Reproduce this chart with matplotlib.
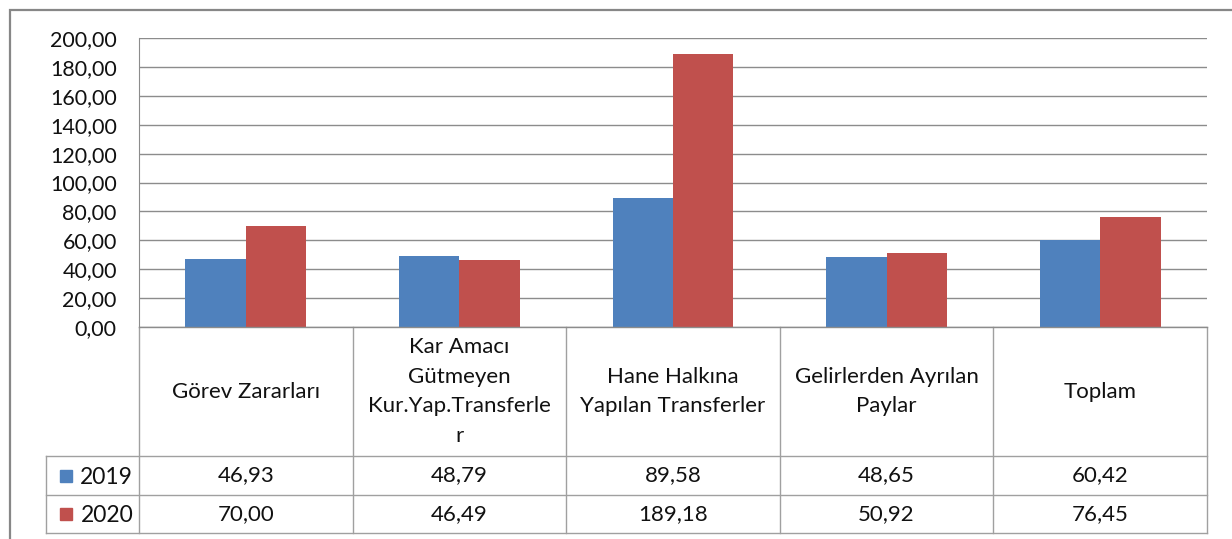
import matplotlib.pyplot as plt
from matplotlib.patches import Rectangle
from matplotlib.transforms import blended_transform_factory

plt.rcParams['font.family'] = ['Lato', 'DejaVu Sans']

categories = ['Görev Zararları', 'Kar Amacı\nGütmeyen\nKur.Yap.Transferle\nr',
              'Hane Halkına\nYapılan Transferler', 'Gelirlerden Ayrılan\nPaylar', 'Toplam']
years = ['2019', '2020']
v2019 = [46.93, 48.79, 89.58, 48.65, 60.42]
v2020 = [70.00, 46.49, 189.18, 50.92, 76.45]
colors = ['#4F81BD', '#C0504D']

W, H = 1232, 539
fig = plt.figure(figsize=(W / 100, H / 100), dpi=100)
fig.patch.set_facecolor('white')

# outer chart frame (cropped at right and bottom)
fig.add_artist(Rectangle((10 / W, -0.1), 1.2, 1 - 10 / H + 0.1, transform=fig.transFigure,
                         fill=False, edgecolor='#878787', linewidth=1.6))

x0, x1, y0, y1 = 139, 1207, 38, 327
ax = fig.add_axes([x0 / W, 1 - y1 / H, (x1 - x0) / W, (y1 - y0) / H])

bw = 0.283
xs = range(len(categories))
ax.bar([i - bw / 2 for i in xs], v2019, bw, color=colors[0], zorder=3)
ax.bar([i + bw / 2 for i in xs], v2020, bw, color=colors[1], zorder=3)

ax.set_xlim(-0.5, len(categories) - 0.5)
ax.set_ylim(0, 200)
ax.set_yticks(range(0, 201, 20))
ax.set_yticklabels(['%d,00' % t for t in range(0, 201, 20)], fontsize=15.5, color='#111111')
ax.tick_params(axis='y', length=0, pad=16)
ax.set_xticks([])
ax.grid(axis='y', color='#8c8c8c', linewidth=1.0, zorder=0)
for s in ['top', 'right', 'bottom']:
    ax.spines[s].set_visible(False)
ax.spines['left'].set_color('#8c8c8c')

# data table below the axis
tr = blended_transform_factory(ax.transData, ax.transAxes)
ph = (y1 - y0)
def yf(py):
    return -(py - y1) / ph

cw = (x1 - x0) / len(categories)
xl = -0.5 - (x0 - 46) / cw  # left edge of legend column
lc = '#a0a0a0'
ytop, yh, yr1, yr2 = yf(327), yf(456), yf(495), yf(533)
fs = 16

ax.plot([-0.5, 4.5], [0, 0], color='#8c8c8c', lw=1.0, transform=tr, clip_on=False, zorder=4)
for yy in [yh, yr1, yr2]:
    ax.plot([xl, 4.5], [yy, yy], color=lc, lw=1.0, transform=tr, clip_on=False)
for i in range(len(categories) + 1):
    ax.plot([i - 0.5, i - 0.5], [ytop, yr2], color=lc, lw=1.0, transform=tr, clip_on=False)
ax.plot([xl, xl], [yh, yr2], color=lc, lw=1.0, transform=tr, clip_on=False)

for i, c in enumerate(categories):
    ax.text(i, (ytop + yh) / 2, c, transform=tr, ha='center', va='center',
            fontsize=fs, color='#111111', linespacing=1.6)

rows = [v2019, v2020]
for r, (yr, vals) in enumerate(zip(years, rows)):
    top = yh if r == 0 else yr1
    bot = yr1 if r == 0 else yr2
    ym = (top + bot) / 2
    for i, v in enumerate(vals):
        ax.text(i, ym, ('%.2f' % v).replace('.', ','), transform=tr, ha='center',
                va='center', fontsize=fs, color='#111111')
    ax.plot([xl + 0.095], [ym], marker='s', markersize=8, color=colors[r],
            transform=tr, clip_on=False, linestyle='none')
    ax.text(-0.5 - 0.027, ym, yr, transform=tr, ha='right', va='center_baseline',
            fontsize=fs + 0.5, color='#111111')

fig.savefig('out.png', dpi=100)
